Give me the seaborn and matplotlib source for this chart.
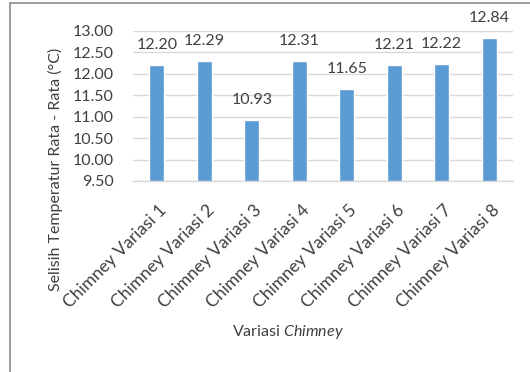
import matplotlib
matplotlib.use("Agg")
import matplotlib.pyplot as plt
import matplotlib.transforms as mtransforms
from matplotlib.lines import Line2D
import seaborn as sns
import pandas as pd

categories = [f"Chimney Variasi {i}" for i in range(1, 9)]
values = [12.20, 12.29, 10.93, 12.31, 11.65, 12.21, 12.22, 12.84]
y_ticks = [9.50, 10.00, 10.50, 11.00, 11.50, 12.00, 12.50, 13.00]

sns.set_theme(style="white")
plt.rcParams["font.family"] = ["Lato", "DejaVu Sans"]
plt.rcParams["mathtext.fontset"] = "custom"
plt.rcParams["mathtext.rm"] = "Lato"
plt.rcParams["mathtext.it"] = "Lato:italic"

text_color = "#404040"
grid_color = "#d9d9d9"
bar_color = "#5b9bd5"
fs = 11.5

df = pd.DataFrame({"kategori": categories, "selisih": values})

W, H = 530, 372
fig = plt.figure(figsize=(W / 100, H / 100), dpi=100)
ax = fig.add_axes([133 / W, 1 - 181 / H, (513 - 133) / W, (181 - 31) / H])

sns.barplot(data=df, x="kategori", y="selisih", color=bar_color,
            width=0.32, ax=ax, saturation=1)

ax.set_ylim(9.5, 13.0)
ax.set_xlim(-0.5, len(categories) - 0.5)
ax.set_yticks(y_ticks)
ax.set_yticklabels([f"{t:.2f}" for t in y_ticks], fontsize=fs, color=text_color)
ax.tick_params(axis="both", length=0)
ax.tick_params(axis="y", pad=14)
ax.set_xticks(range(len(categories)))
ax.set_xticklabels(categories, rotation=45, ha="right", va="top",
                   rotation_mode="anchor", fontsize=12.5, color=text_color)
ax.tick_params(axis="x", pad=15)
shift = mtransforms.ScaledTranslation(2 / 100, 0, fig.dpi_scale_trans)
for lbl in ax.get_xticklabels():
    lbl.set_transform(lbl.get_transform() + shift)

ax.yaxis.grid(True, color=grid_color, linewidth=1)
ax.set_axisbelow(True)
for side in ["left", "right", "top"]:
    ax.spines[side].set_visible(False)
ax.spines["bottom"].set_color(grid_color)
ax.spines["bottom"].set_linewidth(1)
ax.set_xlabel("")
ax.set_ylabel("")

for i, v in enumerate(values):
    ax.annotate(f"{v:.2f}", xy=(i, v), xytext=(0, 11.5), textcoords="offset points",
                ha="center", va="baseline", fontsize=fs, color=text_color,
                annotation_clip=False)

fig.text(288 / W, 1 - 332 / H, r"Variasi $\mathit{Chimney}$", ha="center", va="center",
         fontsize=fs, color=text_color)
fig.text(55 / W, 1 - 169 / H, "Selisih Temperatur Rata - Rata (°C)", rotation=90,
         ha="center", va="center", fontsize=fs, color=text_color)

# chart frame (left and top edges)
frame_color = "#8c8c8c"
fig.add_artist(Line2D([9.5 / W, 9.5 / W], [0, 1 - 2.5 / H], transform=fig.transFigure,
                      color=frame_color, linewidth=1.2))
fig.add_artist(Line2D([9.5 / W, 1], [1 - 2.5 / H, 1 - 2.5 / H], transform=fig.transFigure,
                      color=frame_color, linewidth=1.2))

fig.savefig("out.png", dpi=100, facecolor="white")
